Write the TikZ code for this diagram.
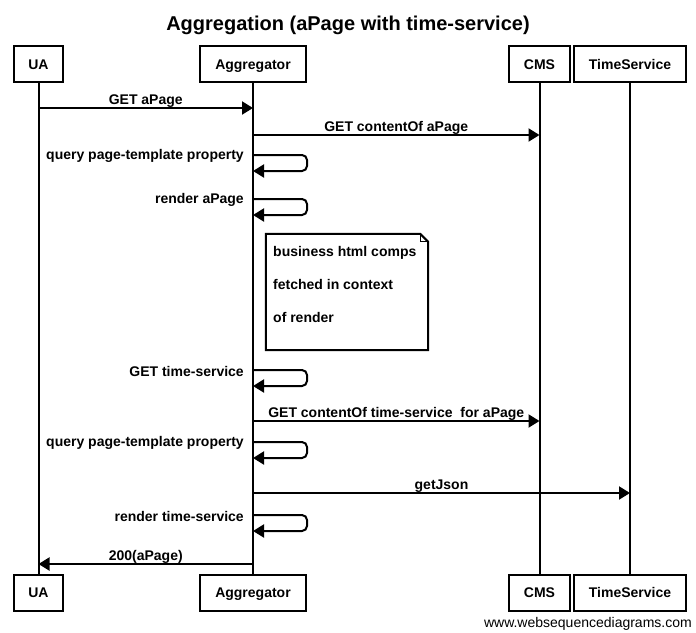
\documentclass[tikz,border=0pt]{standalone}
\usepackage{fontspec}
\setmainfont{Liberation Sans}
\usetikzlibrary{arrows.meta, positioning, calc}

\begin{document}
\begin{tikzpicture}[x=1pt, y=-1pt, font=\fontsize{14}{16}\selectfont\bfseries,
  actor/.style={draw, line width=2pt, minimum height=36pt, inner xsep=0pt, text height=10pt, text depth=0pt},
  life/.style={line width=2pt},
  msg/.style={line width=2pt, -{Triangle[length=11pt, width=13pt]}},
  selfmsg/.style={msg, rounded corners=5pt},
  lbl/.style={inner sep=0pt, anchor=base, yshift=3.5pt},
  selflbl/.style={inner sep=0pt, anchor=east, xshift=-9pt, yshift=-1pt},
  notetxt/.style={inner sep=0pt, anchor=base west}]

  \useasboundingbox (0,0) rectangle (696,632);

  % --- title ---
  \node[font=\fontsize{20}{24}\selectfont\bfseries, anchor=base, inner sep=0pt] (title) at (348,30.5) {Aggregation (aPage with time-service)};

  % --- participants, top and bottom ---
  \node[actor, minimum width=49pt] (ua) at (38.5,64) {UA};
  \node[actor, minimum width=106pt] (agg) at (253,64) {Aggregator};
  \node[actor, minimum width=61pt] (cms) at (539.5,64) {CMS};
  \node[actor, minimum width=112pt] (ts) at (630,64) {TimeService};

  \node[actor, minimum width=49pt] (ua-b) at (38.5,592.5) {UA};
  \node[actor, minimum width=106pt] (agg-b) at (253,592.5) {Aggregator};
  \node[actor, minimum width=61pt] (cms-b) at (539.5,592.5) {CMS};
  \node[actor, minimum width=112pt] (ts-b) at (630,592.5) {TimeService};

  \draw[life] (ua.south) -- (ua-b.north);
  \draw[life] (agg.south) -- (agg-b.north);
  \draw[life] (cms.south) -- (cms-b.north);
  \draw[life] (ts.south) -- (ts-b.north);

  % --- message rows ---
  \coordinate (r1) at (0,108);
  \coordinate (r2) at (0,135);
  \coordinate (s1) at (0,155);
  \coordinate (s2) at (0,199);
  \coordinate (s3) at (0,370);
  \coordinate (r3) at (0,421);
  \coordinate (s4) at (0,442);
  \coordinate (r4) at (0,493);
  \coordinate (s5) at (0,515);
  \coordinate (r5) at (0,564);

  \draw[msg] (ua |- r1) -- (agg |- r1) node[lbl, midway] (t1) {GET aPage};
  \draw[msg] (agg |- r2) -- (cms |- r2) node[lbl, midway] (t2) {GET contentOf aPage};

  \draw[selfmsg] (agg |- s1) -- ++(54,0) -- ++(0,16) -- ++(-54,0);
  \node[selflbl] (t3) at (agg |- s1) {query page-template property};

  \draw[selfmsg] (agg |- s2) -- ++(54,0) -- ++(0,16) -- ++(-54,0);
  \node[selflbl] (t4) at (agg |- s2) {render aPage};

  % --- note ---
  \node[minimum width=162pt, minimum height=116pt, inner sep=0pt] (note) at (347,292) {};
  \draw[line width=2pt] (note.north west) -- ([xshift=-8pt]note.north east) -- ([yshift=-8pt]note.north east)
    -- (note.south east) -- (note.south west) -- cycle;
  \draw[line width=1pt] ([xshift=-8pt]note.north east) -- ([xshift=-8pt, yshift=-8pt]note.north east) -- ([yshift=-8pt]note.north east);
  \node[notetxt] (n1) at (273,256) {business html comps};
  \node[notetxt] (n2) at (273,289) {fetched in context};
  \node[notetxt] (n3) at (273,322) {of render};

  \draw[selfmsg] (agg |- s3) -- ++(54,0) -- ++(0,16) -- ++(-54,0);
  \node[selflbl] (t5) at (agg |- s3) {GET time-service};

  \draw[msg] (agg |- r3) -- (cms |- r3) node[lbl, midway] (t6) {GET contentOf time-service\ \ for aPage};

  \draw[selfmsg] (agg |- s4) -- ++(54,0) -- ++(0,16) -- ++(-54,0);
  \node[selflbl] (t7) at (agg |- s4) {query page-template property};

  \draw[msg] (agg |- r4) -- (ts |- r4) node[lbl, midway] (t8) {getJson};

  \draw[selfmsg] (agg |- s5) -- ++(54,0) -- ++(0,16) -- ++(-54,0);
  \node[selflbl] (t9) at (agg |- s5) {render time-service};

  \draw[msg] (agg |- r5) -- (ua |- r5) node[lbl, midway] (t10) {200(aPage)};

  % --- footer ---
  \node[font=\fontsize{14}{16}\selectfont, anchor=base east, inner sep=0pt] (footer) at (692,627) {www.websequencediagrams.com};
\end{tikzpicture}
\end{document}
